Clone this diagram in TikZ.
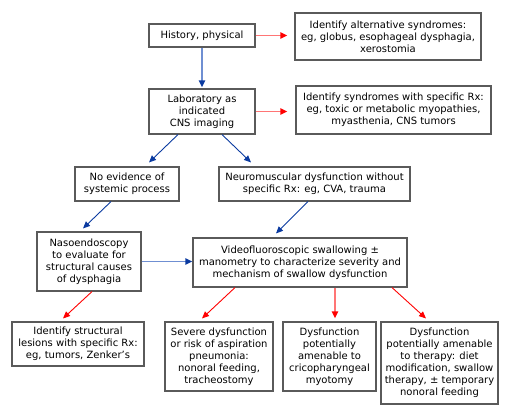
\documentclass[tikz,border=0pt]{standalone}
\usepackage{fontspec}
\setmainfont{DejaVu Sans}
\usetikzlibrary{arrows.meta}
\definecolor{boxgray}{HTML}{5A5A5A}
\definecolor{bluehead}{HTML}{0A3AA0}
\definecolor{blueshaft}{HTML}{6F8FD2}
\definecolor{redhead}{HTML}{FF0000}
\definecolor{redshaft}{HTML}{FF7575}
\begin{document}
\begin{tikzpicture}[x=1pt,y=-1pt,
  bx/.style 2 args={draw=boxgray, line width=1.1pt, inner sep=0pt, minimum width=#1pt, minimum height=#2pt, align=center, font=\fontsize{10pt}{12pt}\selectfont},
  tipblue/.style={-{Triangle[length=7pt,width=6pt,color=bluehead]}},
  tipred/.style={-{Triangle[length=7pt,width=6pt,color=redhead]}},
  bstraight/.style={tipblue, draw=blueshaft, line width=1.8pt},
  bdiag/.style={tipblue, draw=bluehead, line width=0.9pt},
  rstraight/.style={tipred, draw=redshaft, line width=1.8pt},
  rdiag/.style={tipred, draw=redhead, line width=0.9pt}]
\useasboundingbox (0,0) rectangle (511,420);
\node[bx={106}{23}] (b1) at (202,35.5) {History, physical};
\node[bx={186}{47}] (b2) at (388,36.5) {Identify alternative syndromes:\\eg, globus, esophageal dysphagia,\\xerostomia};
\node[bx={106}{45}] (b3) at (202,111.5) {Laboratory as\\indicated\\CNS imaging};
\node[bx={195}{48}] (b4) at (393.5,110) {Identify syndromes with specific Rx:\\eg, toxic or metabolic myopathies,\\myasthenia, CNS tumors};
\node[bx={104}{34}] (b5) at (127,184) {No evidence of\\systemic process};
\node[bx={191}{34}] (b6) at (314.5,184) {Neuromuscular dysfunction without\\specific Rx: eg, CVA, trauma};
\node[bx={104}{59}] (b7) at (89,261.5) {Nasoendoscopy\\to evaluate for\\structural causes\\of dysphagia};
\node[bx={214}{49}] (b8) at (300,262.5) {Videofluoroscopic swallowing ±\\manometry to characterize severity and\\mechanism of swallow dysfunction};
\node[bx={132}{44}] (b9) at (78,344) {Identify structural\\lesions with specific Rx:\\eg, tumors, Zenker's};
\node[bx={108}{69}] (b10) at (219,356.5) {Severe dysfunction\\or risk of aspiration\\pneumonia:\\nonoral feeding,\\tracheostomy};
\node[bx={93}{69}] (b11) at (329.5,356.5) {Dysfunction\\potentially\\amenable to\\cricopharyngeal\\myotomy};
\node[bx={117}{82}] (b12) at (439.5,363) {Dysfunction\\potentially amenable\\to therapy: diet\\modification, swallow\\therapy, ± temporary\\nonoral feeding};
% arrows
\draw[rstraight, shorten >=7pt] (b1.east) -- (b1.east -| b2.west);
\draw[bstraight, shorten >=1pt] (b1.south) -- (b3.north);
\draw[rstraight, shorten >=8pt] (b3.east) -- (b3.east -| b4.west);
\draw[bdiag] ([xshift=-24pt]b3.south) -- ([xshift=22pt,yshift=4pt]b5.north);
\draw[bdiag] ([xshift=20pt]b3.south) -- ([xshift=-63.5pt,yshift=4pt]b6.north);
\draw[bdiag] ([xshift=-16pt]b5.south) -- ([xshift=-6pt,yshift=3pt]b7.north);
\draw[bdiag] ([xshift=-6.5pt]b6.south) -- ([xshift=-24pt,yshift=4pt]b8.north);
\draw[bstraight] (b7.east) -- (b7.east -| b8.west);
\draw[rdiag] ([xshift=3pt]b7.south) -- ([xshift=-15pt,yshift=3pt]b9.north);
\draw[rdiag] ([xshift=-65pt]b8.south) -- ([xshift=-17pt,yshift=3pt]b10.north);
\draw[rstraight] ([xshift=35pt]b8.south) -- ([xshift=5.5pt,yshift=3pt]b11.north);
\draw[rdiag] ([xshift=92pt]b8.south) -- ([xshift=-13.5pt,yshift=3pt]b12.north);
\end{tikzpicture}
\end{document}
